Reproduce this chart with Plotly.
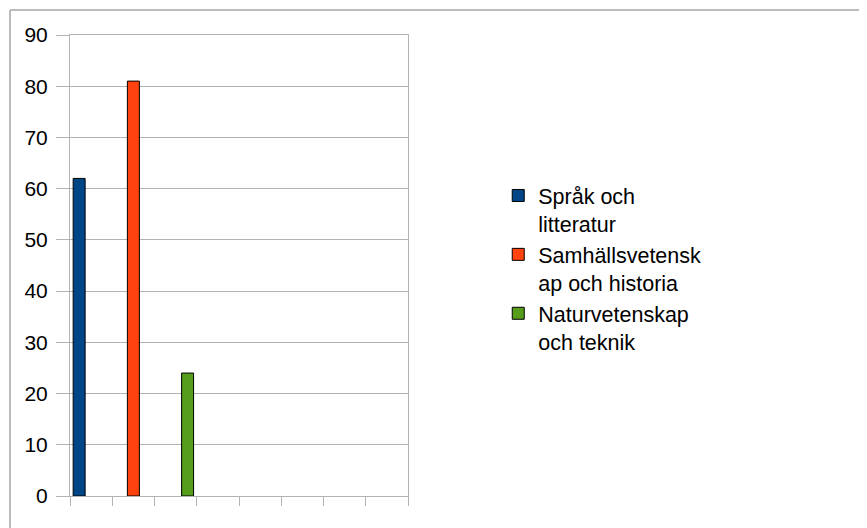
import plotly.graph_objects as go

categories = ["1", "2", "3", "4", "5", "6", "7", "8"]
series_names = ["Språk och<br>litteratur", "Samhällsvetensk<br>ap och historia", "Naturvetenskap<br>och teknik"]
sprak = [62, None, None, None, None, None, None, None]
samhalle = [None, 81, None, None, None, None, None, None]
natur = [None, None, 24, None, None, None, None, None]
y_ticks = [0, 10, 20, 30, 40, 50, 60, 70, 80, 90]
colors = ["#004586", "#ff420e", "#579d1c"]

fig = go.Figure()
for i, (name, vals) in enumerate(zip(series_names, [sprak, samhalle, natur])):
    fig.add_trace(go.Bar(
        x=categories, y=vals, name=name,
        marker=dict(color=colors[i], line=dict(color="#000000", width=1)),
        legendgroup=f"g{i}",
    ))

grid = "#b3b3b3"
border = "#a6a6a6"
fig.update_layout(
    width=859, height=520,
    margin=dict(l=62, r=459, t=27, b=32),
    paper_bgcolor="white", plot_bgcolor="white",
    barmode="group", bargap=0.15, bargroupgap=0,
    font=dict(family="Liberation Sans, Arial, sans-serif", size=21, color="#000000"),
    showlegend=True,
    legend=dict(x=1.267, xanchor="left", y=0.4935, yanchor="middle",
                font=dict(size=21.5), tracegroupgap=0, valign="top",
                bgcolor="rgba(0,0,0,0)"),
    xaxis=dict(type="category", tickson="boundaries", ticks="outside", ticklen=9,
               tickcolor=grid, showticklabels=False, showgrid=False,
               showline=True, mirror=True, linecolor=grid, linewidth=1),
    yaxis=dict(range=[0, 90], tickvals=y_ticks, ticks="outside", ticklen=13,
               tickcolor=grid, showgrid=True, gridcolor=grid, gridwidth=1,
               showline=True, mirror=True, linecolor=grid, linewidth=1,
               zeroline=False, ticklabelstandoff=4),
    shapes=[
        dict(type="line", xref="paper", yref="paper",
             x0=-0.1775, x1=2.5, y0=1.0542, y1=1.0542,
             line=dict(color=border, width=1.5)),
        dict(type="line", xref="paper", yref="paper",
             x0=-0.1775, x1=-0.1775, y0=-0.2, y1=1.0542,
             line=dict(color=border, width=1.5)),
    ],
)

fig.write_html("out.html")
